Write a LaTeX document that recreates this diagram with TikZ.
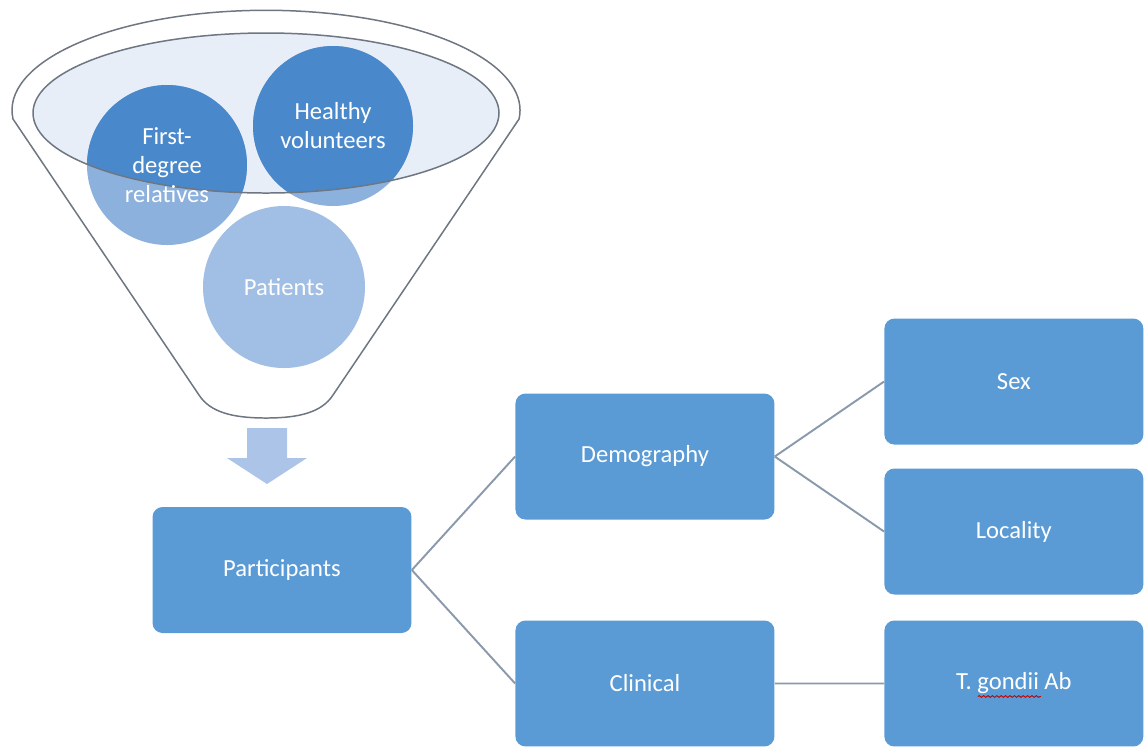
\documentclass[tikz,border=0pt]{standalone}
\usepackage{fontspec}
\setmainfont{Carlito}
\usetikzlibrary{decorations.pathmorphing}

\definecolor{boxblue}{HTML}{5B9BD5}
\definecolor{rimgray}{HTML}{6E7681}
\definecolor{bowltint}{HTML}{E7EEF8}
\definecolor{bubbledark}{HTML}{4A88CC}
\definecolor{bubblelight}{HTML}{8DB1DD}
\definecolor{bubblepale}{HTML}{A1BEE5}
\definecolor{arrowblue}{HTML}{ACC4E8}
\definecolor{linkgray}{HTML}{8A99AC}

\begin{document}
\begin{tikzpicture}
	  [
	    x                       = 0.02cm,
	    y                       = 0.02cm,
	    grow'                   = right,
	    parent anchor           = east,
	    child anchor            = west,
	    edge from parent/.style = {draw, linkgray, line width=1.1pt},
	    every child node/.style = {box},
	    box/.style              = {rectangle, rounded corners=0.2cm, fill=boxblue,
	                               minimum width=5.18cm, minimum height=2.52cm,
	                               text=white, font=\fontsize{14}{17}\selectfont},
	    bubble/.style           = {circle, minimum size=3.2cm, inner sep=0pt, align=center,
	                               text=white, font=\fontsize{14}{16.5}\selectfont},
	    rim/.style              = {draw=rimgray, line width=0.85pt},
	    level 1/.style          = {level distance=7.26cm, sibling distance=4.54cm},
	    level 2/.style          = {level distance=7.38cm, sibling distance=3cm}
	  ]
	  \useasboundingbox (0,0) rectangle (1148,-752);

	  % funnel
	  \draw[rim, fill=white] (13,-119) arc[start angle=185, end angle=-5, x radius=254, y radius=100]
	    -- (333,-395) .. controls (322,-412) and (300,-418) .. (266,-418)
	    .. controls (232,-418) and (210,-412) .. (199,-395) -- cycle;
	  \fill[bowltint] (266,-113) ellipse[x radius=233, y radius=80];

	  % groups poured in
	  \fill[bubblelight] (167,-165) circle[radius=80] (333,-126) circle[radius=80];
	  \fill[bubblepale] (284,-287) circle[radius=81];
	  \begin{scope}
	    \clip (266,-113) ellipse[x radius=233, y radius=80];
	    \fill[bubbledark] (167,-165) circle[radius=80] (333,-126) circle[radius=80];
	  \end{scope}
	  \draw[rim] (266,-113) ellipse[x radius=233, y radius=80];

	  \node[bubble] (relatives)  at (167,-165) {First-\\degree\\relatives};
	  \node[bubble] (volunteers) at (333,-126) {Healthy\\volunteers};
	  \node[bubble] (patients)   at (284,-287) {Patients};

	  % arrow down to the tree
	  \fill[arrowblue] (247,-428) -- (287,-428) -- (287,-458) -- (307,-458)
	    -- (267,-484) -- (227,-458) -- (247,-458) -- cycle;

	  \node[box] (participants) at (282,-570) {Participants}
	    child { node (demography) {Demography}
	      child { node (sex) {Sex} }
	      child { node (locality) {Locality} }
	    }
	    child { node (clinical) {Clinical}
	      child { node (tgondii) {T. gondii Ab} }
	    };

	  % spell-check mark
	  \draw[red!75!black, line width=0.5pt, decorate,
	    decoration={snake, amplitude=0.5pt, segment length=2.5pt}]
	    ([shift={(-36,-13)}]tgondii.center) -- ([shift={(27,-13)}]tgondii.center);
\end{tikzpicture}
\end{document}
